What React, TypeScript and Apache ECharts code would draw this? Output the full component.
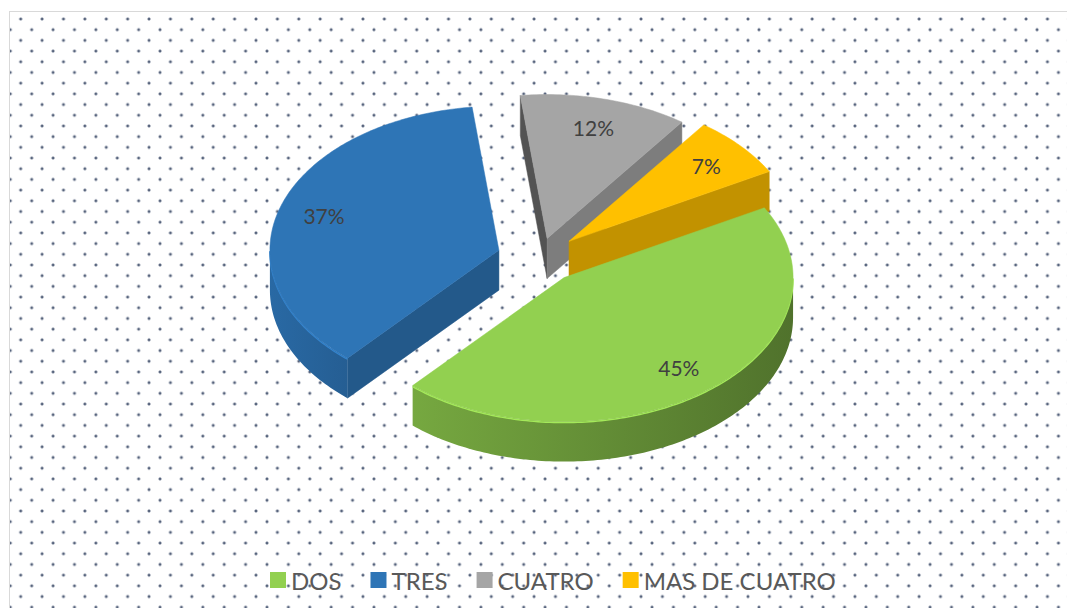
import React, { useEffect, useRef } from "react";
import * as echarts from "echarts";

// ---- data ----
const categories = ["DOS", "TRES", "CUATRO", "MAS DE CUATRO"];
const values = [45, 37, 12, 7];
const topColors = ["#92d050", "#2e75b6", "#a5a5a5", "#ffc000"];

// ---- geometry (layout only) ----
const CX = 539;
const CY = 258;
const RX = 229;
const RY = 144;
const DEPTH = 40;
const EXPLODE_BY = [40, 42, 32, 40];
const START_ANGLE = 61;
const K = RY / RX;
const rad = (d: number) => (d * Math.PI) / 180;

function shade(hex: string, f: number) {
  const n = parseInt(hex.slice(1), 16);
  const r = Math.min(255, Math.round(((n >> 16) & 255) * f));
  const g = Math.min(255, Math.round(((n >> 8) & 255) * f));
  const b = Math.min(255, Math.round((n & 255) * f));
  return `rgb(${r},${g},${b})`;
}

function sliceGeom(i: number) {
  const total = values.reduce((a, b) => a + b, 0);
  let acc = 0;
  for (let j = 0; j < i; j++) acc += values[j];
  const a0 = START_ANGLE + (acc / total) * 360;
  const a1 = START_ANGLE + ((acc + values[i]) / total) * 360;
  const mid = (a0 + a1) / 2;
  const d = EXPLODE_BY[i];
  const vx = CX + d * Math.sin(rad(mid));
  const vy = CY - d * Math.cos(rad(mid)) * K;
  return { a0, a1, mid, vx, vy };
}

function renderSlice(params: any) {
  const i = params.seriesIndex;
  const g = sliceGeom(i);
  const col = topColors[i];
  const P = (t: number, dz = 0) => [
    g.vx + RX * Math.sin(rad(t)),
    g.vy - RY * Math.cos(rad(t)) + dz,
  ];
  const arc = (from: number, to: number, dz = 0) => {
    const pts: number[][] = [];
    const n = Math.max(2, Math.ceil(Math.abs(to - from)));
    for (let k = 0; k <= n; k++) pts.push(P(from + ((to - from) * k) / n, dz));
    return pts;
  };
  const children: any[] = [];
  // radial cut faces
  const addRadial = (t: number, normal: number) => {
    if (Math.cos(rad(normal)) < 0) {
      const p = P(t);
      const f = 0.76 - 0.26 * Math.max(0, -Math.sin(rad(normal)));
      children.push({
        type: "polygon",
        shape: {
          points: [
            [g.vx, g.vy],
            p,
            [p[0], p[1] + DEPTH],
            [g.vx, g.vy + DEPTH],
          ],
        },
        style: { fill: shade(col, f), stroke: shade(col, f), lineWidth: 0.5 },
      });
    }
  };
  addRadial(g.a0, g.a0 - 90);
  addRadial(g.a1, g.a1 + 90);
  // outer curved face
  const fAt = (t: number) => {
    const m = ((t % 360) + 360) % 360;
    return 0.55 + (0.35 * (m - 90)) / 180;
  };
  for (const base of [-360, 0, 360]) {
    const lo = Math.max(g.a0, 90 + base);
    const hi = Math.min(g.a1, 270 + base);
    if (hi > lo) {
      const top = arc(lo, hi);
      const bottom = arc(hi, lo, DEPTH);
      children.push({
        type: "polygon",
        shape: { points: top.concat(bottom) },
        style: {
          fill: new echarts.graphic.LinearGradient(0, 0, 1, 0, [
            { offset: 0, color: shade(col, fAt(hi)) },
            { offset: 1, color: shade(col, fAt(lo)) },
          ]),
        },
      });
      children.push({
        type: "polyline",
        shape: { points: arc(lo, hi, 1) },
        style: { stroke: shade(col, 1.12), lineWidth: 1.5, fill: null },
      });
    }
  }
  // top face
  children.push({
    type: "polygon",
    shape: { points: [[g.vx, g.vy]].concat(arc(g.a0, g.a1)) },
    style: { fill: col, stroke: col, lineWidth: 0.5 },
  });
  // label
  const lp = [
    g.vx + 0.8 * RX * Math.sin(rad(g.mid)),
    g.vy - 0.8 * RY * Math.cos(rad(g.mid)),
  ];
  children.push({
    type: "text",
    z2: 100,
    style: {
      text: values[i] + "%",
      x: lp[0],
      y: lp[1],
      align: "center",
      verticalAlign: "middle",
      textAlign: "center",
      textVerticalAlign: "middle",
      fontSize: 21,
      fontFamily: "Lato",
      fill: "#404040",
    },
  });
  return { type: "group", children };
}

export default function App() {
  const ref = useRef<HTMLDivElement>(null);
  useEffect(() => {
    document.body.style.margin = "0";
    if (!ref.current) return;
    const chart = echarts.init(ref.current, null, { renderer: "svg" });
    const depthOrder = categories
      .map((_, i) => ({ i, y: sliceGeom(i).vy }))
      .sort((a, b) => a.y - b.y)
      .map((d) => d.i);
    chart.setOption({
      animation: false,
      backgroundColor: "transparent",
      legend: {
        data: categories,
        left: 265,
        top: 563,
        icon: "rect",
        itemWidth: 16,
        itemHeight: 16,
        itemGap: 29,
        textStyle: { fontFamily: "Lato", fontSize: 24, color: "#595959" },
      },
      series: categories.map((name, i) => ({
        type: "custom",
        name,
        coordinateSystem: "none",
        z: 2 + depthOrder.indexOf(i),
        itemStyle: { color: topColors[i] },
        data: [values[i]],
        renderItem: renderSlice,
      })),
    });
    return () => chart.dispose();
  }, []);

  const dot = (c: string) =>
    `radial-gradient(circle, ${c} 0px, ${c} 1px, rgba(79,93,120,0.3) 1.6px, rgba(255,255,255,0) 2.1px)`;
  return (
    <div style={{ position: "relative", width: 1067, height: 608, overflow: "hidden", background: "#fff" }}>
      <div
        style={{
          position: "absolute",
          left: 9,
          top: 11,
          right: 0,
          bottom: 0,
          borderLeft: "1px solid #d9d9d9",
          borderTop: "1px solid #d9d9d9",
          backgroundImage: `${dot("#56637c")}, ${dot("#56637c")}`,
          backgroundSize: "21.4px 21.4px, 21.4px 21.4px",
          backgroundPosition: "0px -3.7px, 11px 7px",
        }}
      />
      <div ref={ref} style={{ position: "absolute", left: 0, top: 0, width: 1067, height: 608 }} />
    </div>
  );
}
